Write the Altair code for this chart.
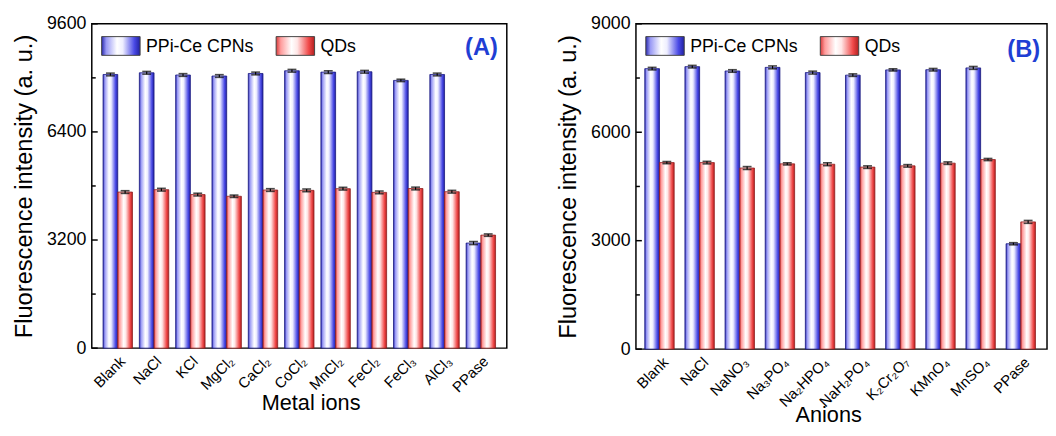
import altair as alt
import pandas as pd

FONT = "Liberation Sans"
SERIES = ["PPi-Ce CPNs", "QDs"]

# ---- Panel A data (metal ions) ----
metals = ["Blank", "NaCl", "KCl", "MgCl₂", "CaCl₂", "CoCl₂", "MnCl₂", "FeCl₂", "FeCl₃", "AlCl₃", "PPase"]
metal_cpn = [8100, 8150, 8085, 8055, 8130, 8210, 8170, 8180, 7925, 8100, 3110]
metal_qd = [4620, 4690, 4545, 4495, 4680, 4670, 4720, 4610, 4725, 4630, 3345]
metal_cpn_err = [40, 40, 40, 40, 40, 40, 40, 40, 35, 40, 45]
metal_qd_err = [40, 40, 40, 35, 40, 40, 40, 40, 40, 40, 35]
metal_major = [0, 3200, 6400, 9600]
metal_minor = [1600, 4800, 8000]

# ---- Panel B data (anions) ----
anions = ["Blank", "NaCl", "NaNO₃", "Na₃PO₄", "Na₂HPO₄", "NaH₂PO₄", "K₂Cr₂O₇", "KMnO₄", "MnSO₄", "PPase"]
anion_cpn = [7760, 7815, 7695, 7795, 7650, 7580, 7725, 7730, 7780, 2915]
anion_qd = [5160, 5160, 5010, 5125, 5115, 5035, 5070, 5145, 5245, 3520]
anion_cpn_err = [35, 35, 35, 40, 40, 35, 30, 35, 40, 30]
anion_qd_err = [30, 35, 40, 30, 40, 35, 35, 35, 30, 40]
anion_major = [0, 3000, 6000, 9000]
anion_minor = [1500, 4500, 7500]


def grad(stops):
    return alt.LinearGradient(
        gradient="linear",
        stops=[alt.GradientStop(offset=o, color=c) for o, c in stops],
        x1=0, x2=1, y1=0, y2=0,
    )


BLUE = grad([(0, "#2a2ab0"), (0.12, "#9a9af5"), (0.4, "#ffffff"), (0.55, "#eeeeff"),
             (0.85, "#4a4ae6"), (1, "#2020a0")])
RED = grad([(0, "#d83a3a"), (0.12, "#ff9c9c"), (0.4, "#ffffff"), (0.55, "#ffe6e6"),
            (0.85, "#f04848"), (1, "#b02020")])


def panel(cats, cpn, qd, cpn_err, qd_err, major, minor, ymax, xtitle, tag,
          width, height, pin, pout, title_x, title_y, tag_x, tag_y):
    rows = []
    for c, v1, e1, v2, e2 in zip(cats, cpn, cpn_err, qd, qd_err):
        rows.append({"category": c, "series": SERIES[0], "value": v1, "hi": v1 + e1, "lo": v1 - e1})
        rows.append({"category": c, "series": SERIES[1], "value": v2, "hi": v2 + e2, "lo": v2 - e2})
    df = pd.DataFrame(rows)

    x = alt.X("category:N", sort=cats,
              scale=alt.Scale(paddingInner=pin, paddingOuter=pout),
              axis=alt.Axis(title=xtitle, labels=False, ticks=False, tickSize=0, domain=False,
                            titleFontSize=22, titleFontWeight="normal", titleColor="black",
                            titleX=title_x, titleY=title_y, titleBaseline="alphabetic",
                            titleAlign="center", titleFont=FONT))
    xo = alt.XOffset("series:N", scale=alt.Scale(domain=SERIES, paddingInner=0, paddingOuter=0))
    y = alt.Y("value:Q", scale=alt.Scale(domain=[0, ymax], nice=False, zero=True),
              axis=alt.Axis(values=major, title="Fluorescence intensity (a. u.)", format="d",
                            labelFontSize=18, labelPadding=6, ticks=False, tickSize=0,
                            domain=False, grid=False, labelColor="black",
                            titleFontSize=24, titleFontWeight="normal", titleColor="black",
                            titlePadding=9.5, minExtent=47, maxExtent=47,
                            labelFont=FONT, titleFont=FONT))

    base = alt.Chart(df)
    bars_b = base.transform_filter(alt.datum.series == SERIES[0]).mark_bar(
        color=BLUE, stroke="#1a1a80", strokeWidth=0.8).encode(x=x, xOffset=xo, y=y)
    bars_r = base.transform_filter(alt.datum.series == SERIES[1]).mark_bar(
        color=RED, stroke="#902020", strokeWidth=0.8).encode(x=x, xOffset=xo, y=y)
    err = base.mark_rule(color="black", strokeWidth=1.2).encode(
        x=x, xOffset=xo, y=alt.Y("hi:Q"), y2="lo:Q")
    cap_hi = base.mark_tick(color="black", thickness=1.6, size=9).encode(
        x=x, xOffset=xo, y=alt.Y("hi:Q"))
    cap_lo = base.mark_tick(color="black", thickness=1.6, size=9).encode(
        x=x, xOffset=xo, y=alt.Y("lo:Q"))

    labels = alt.Chart(pd.DataFrame({"category": cats})).mark_text(
        angle=315, align="right", baseline="top", fontSize=15, font=FONT, color="black"
    ).encode(x=x, text="category:N", y=alt.value(height + 6))

    tmaj = alt.Chart(pd.DataFrame({"value": major})).mark_rule(
        color="black", strokeWidth=1.5).encode(y=alt.Y("value:Q"), x=alt.value(0), x2=alt.value(6))
    tmin = alt.Chart(pd.DataFrame({"value": minor})).mark_rule(
        color="black", strokeWidth=1.5).encode(y=alt.Y("value:Q"), x=alt.value(0), x2=alt.value(4))

    one = pd.DataFrame({"k": [0]})
    leg_b = alt.Chart(one).mark_rect(color=BLUE, stroke="#444444", strokeWidth=1).encode(
        x=alt.value(10), x2=alt.value(49), y=alt.value(13), y2=alt.value(32))
    leg_r = alt.Chart(one).mark_rect(color=RED, stroke="#444444", strokeWidth=1).encode(
        x=alt.value(187), x2=alt.value(226), y=alt.value(13), y2=alt.value(32))
    leg_tb = alt.Chart(one).mark_text(text=SERIES[0], align="left", baseline="alphabetic",
                                      fontSize=18, font=FONT, color="black").encode(
        x=alt.value(55), y=alt.value(29))
    leg_tr = alt.Chart(one).mark_text(text=SERIES[1], align="left", baseline="alphabetic",
                                      fontSize=18, font=FONT, color="black").encode(
        x=alt.value(232), y=alt.value(29))
    tag_t = alt.Chart(one).mark_text(text=tag, align="right", baseline="alphabetic",
                                     fontSize=24, fontWeight="bold", font=FONT,
                                     color="#1f3fd4").encode(x=alt.value(tag_x), y=alt.value(tag_y))

    return alt.layer(bars_b, bars_r, err, cap_hi, cap_lo, labels, tmaj, tmin,
                     leg_b, leg_r, leg_tb, leg_tr, tag_t).properties(width=width, height=height)


pa = panel(metals, metal_cpn, metal_qd, metal_cpn_err, metal_qd_err, metal_major, metal_minor,
           9600, "Metal ions", "(A)", 421, 329, 0.19, 0.31, 222, 62, 412, 32)
pb = panel(anions, anion_cpn, anion_qd, anion_cpn_err, anion_qd_err, anion_major, anion_minor,
           9000, "Anions", "(B)", 417, 330, 0.2, 0.22, 195, 73, 410, 34)

chart = alt.hconcat(pa, pb, spacing=48).properties(
    padding={"left": 3, "top": 3, "right": 0, "bottom": 0},
    background="white",
).configure_view(stroke="black", strokeWidth=1.5)

chart.save("out.html", embed_options={"renderer": "svg", "actions": False})
